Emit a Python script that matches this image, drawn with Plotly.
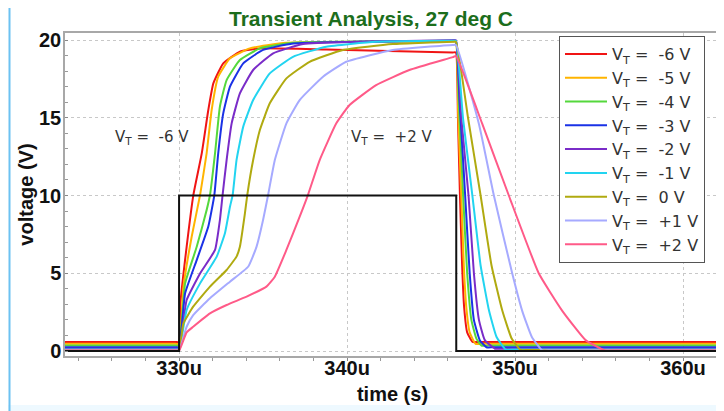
import plotly.graph_objects as go

# ---------------- data ----------------
labels = ["V<sub>T</sub> =  -6 V", "V<sub>T</sub> =  -5 V", "V<sub>T</sub> =  -4 V",
          "V<sub>T</sub> =  -3 V", "V<sub>T</sub> =  -2 V", "V<sub>T</sub> =  -1 V",
          "V<sub>T</sub> =  0 V", "V<sub>T</sub> =  +1 V", "V<sub>T</sub> =  +2 V"]
colors = ["#f01414", "#ffb400", "#55d83c", "#1a32e6", "#7a2cc8", "#22d4f0",
          "#b0aa10", "#a6aaff", "#ff5a88"]

t_m6 = [323.2, 329.8, 330.0, 330.08, 330.45, 330.85, 331.35, 331.74, 332.04, 332.63, 333.62, 334.81, 338.76, 346.3, 346.48,
        346.6, 346.72, 346.85, 346.97, 347.15, 347.47, 347.8, 362.3]
v_m6 = [0.58, 0.58, 0.58, 3.07, 6.7, 10.03, 12.71, 15.5, 17.21, 18.5, 19.25, 19.46, 19.39, 19.2, 19.2,
        15.0, 10.0, 5.5, 2.8, 1.2, 0.58, 0.58, 0.58]

t_m5 = [323.2, 329.8, 330.0, 330.26, 330.75, 331.25, 331.64, 331.94, 332.33, 333.03, 334.21, 336.39, 346.3, 346.48,
        346.62, 346.8, 346.95, 347.1, 347.3, 347.65, 348.0, 362.3]
v_m5 = [0.46, 0.46, 0.46, 4.14, 7.35, 10.03, 12.71, 15.5, 17.64, 18.82, 19.46, 19.82, 19.9, 19.9,
        15.0, 10.0, 5.5, 2.8, 1.2, 0.46, 0.46, 0.46]

t_m4 = [323.2, 329.8, 330.0, 330.36, 331.05, 331.64, 331.84, 332.14, 332.43, 332.83, 333.62, 334.81, 336.8, 346.3, 346.48,
        346.65, 346.91, 347.15, 347.4, 347.7, 348.0, 348.4, 362.3]
v_m4 = [0.35, 0.35, 0.35, 4.35, 6.7, 9.06, 10.03, 12.71, 15.71, 17.42, 18.71, 19.46, 19.82, 19.95, 19.95,
        16.0, 10.0, 5.0, 2.0, 0.8, 0.35, 0.35, 0.35]

t_m3 = [323.2, 329.8, 330.0, 330.36, 331.05, 331.74, 332.1, 332.33, 332.63, 333.03, 333.82, 335.0, 336.78, 346.3, 346.48,
        346.7, 347.03, 347.3, 347.55, 347.9, 348.3, 348.7, 362.3]
v_m3 = [0.24, 0.24, 0.24, 3.71, 5.85, 8.0, 10.03, 12.71, 15.28, 17.0, 18.5, 19.36, 19.78, 19.96, 19.96,
        16.0, 10.0, 5.0, 2.0, 0.7, 0.24, 0.24, 0.24]

t_m2 = [323.2, 329.8, 330.0, 330.45, 331.25, 332.14, 332.43, 332.59, 332.83, 333.13, 333.62, 334.41, 335.6, 337.38,
        346.3, 346.48, 346.8, 347.23, 347.55, 347.85, 348.2, 348.8, 349.2, 362.3]
v_m2 = [0.15, 0.15, 0.15, 3.28, 4.99, 6.5, 8.42, 10.03, 12.28, 14.64, 16.57, 18.07, 19.14, 19.74,
        19.98, 19.98, 15.0, 10.0, 5.0, 2.0, 0.7, 0.15, 0.15, 0.15]

t_m1 = [323.2, 329.8, 330.0, 330.45, 331.25, 332.24, 332.73, 333.03, 333.19, 333.42, 333.82, 334.41, 335.4, 336.78,
        338.76, 341.73, 346.3, 346.48, 346.9, 347.46, 347.95, 348.45, 348.9, 349.44, 349.9, 362.3]
v_m1 = [0.1, 0.1, 0.1, 2.64, 4.35, 6.07, 7.57, 9.28, 10.03, 12.28, 14.43, 16.14, 17.85, 18.92,
        19.57, 19.89, 19.95, 19.95, 15.0, 10.0, 5.5, 2.6, 0.9, 0.1, 0.1, 0.1]

t_z0 = [323.2, 329.8, 330.0, 330.26, 330.84, 331.84, 332.83, 333.42, 333.62, 333.92, 334.06, 334.41, 334.81, 335.4,
        336.39, 337.77, 339.75, 342.72, 346.3, 346.48, 347.2, 347.95, 348.6, 349.24, 349.8, 350.33, 350.8, 362.3]
v_z0 = [0.07, 0.07, 0.07, 1.78, 2.85, 4.14, 5.21, 6.07, 6.7, 8.85, 10.03, 12.28, 14.21, 15.93,
        17.53, 18.6, 19.36, 19.74, 19.89, 19.89, 15.0, 10.0, 5.5, 2.6, 0.8, 0.07, 0.07, 0.07]

t_p1 = [323.2, 329.8, 330.0, 330.45, 330.84, 331.84, 333.03, 334.11, 334.61, 335.0, 335.3, 335.7, 336.39, 337.18,
        338.57, 339.95, 342.72, 346.3, 346.48, 347.85, 348.74, 349.83, 350.42, 351.0, 351.61, 352.1, 362.3]
v_p1 = [0.05, 0.05, 0.05, 1.56, 2.31, 3.39, 4.46, 5.42, 6.7, 8.42, 10.03, 12.28, 14.64, 16.14,
        17.64, 18.6, 19.36, 19.68, 19.68, 14.6, 10.0, 5.0, 2.6, 0.9, 0.05, 0.05, 0.05]

t_p2 = [323.2, 329.8, 330.0, 330.45, 330.84, 331.84, 332.83, 334.02, 335.2, 335.7, 336.39, 337.18, 337.67, 338.37,
        339.36, 340.15, 341.73, 343.71, 346.3, 346.48, 348.05, 349.63, 351.41, 352.8, 354.2, 355.36, 355.9, 362.3]
v_p2 = [0.03, 0.03, 0.03, 1.2, 1.56, 2.42, 2.96, 3.5, 4.14, 4.78, 6.5, 8.64, 10.03, 12.28,
        14.64, 15.82, 17.1, 18.07, 18.9, 18.97, 14.6, 10.0, 5.0, 2.6, 0.7, 0.03, 0.03, 0.03]

t_pulse = [323.2, 330.0, 330.0, 346.5, 346.5, 362.3]
v_pulse = [0.0, 0.0, 10.0, 10.0, 0.0, 0.0]

x_tickvals = [330, 340, 350, 360]
x_ticktext = ["330u", "340u", "350u", "360u"]
y_tickvals = [0, 5, 10, 15, 20]

series_t = [t_m6, t_m5, t_m4, t_m3, t_m2, t_m1, t_z0, t_p1, t_p2]
series_v = [v_m6, v_m5, v_m4, v_m3, v_m2, v_m1, v_z0, v_p1, v_p2]

# ---------------- figure ----------------
fig = go.Figure()
for name, col, tt, vv in zip(labels, colors, series_t, series_v):
    fig.add_trace(go.Scatter(x=tt, y=vv, mode="lines", name=name,
                             line=dict(color=col, width=2, shape="spline", smoothing=0.4)))

fig.add_trace(go.Scatter(x=t_pulse, y=v_pulse, mode="lines", showlegend=False,
                         line=dict(color="#111111", width=2)))

# the page body adds an 8 px offset; lay out in window pixels and convert
OFF = 8
W, H = 724 - OFF, 411 - OFF
PL, PR, PT, PB = 65, 720, 33, 356          # plot area in window pixels
L, R, T, B = PL - OFF, W - (PR - OFF), PT - OFF, H - (PB - OFF)
pw, ph = W - L - R, H - T - B


def px(xw):
    return (xw - OFF - L) / pw


def py(yw):
    return (H - B - (yw - OFF)) / ph


label_font = dict(family="DejaVu Sans, Verdana, sans-serif", size=15, color="#333333")
fig.add_annotation(x=328.4, y=13.7, text="V<sub>T</sub> =  -6 V", showarrow=False, font=label_font)
fig.add_annotation(x=342.64, y=13.76, text="V<sub>T</sub> =  +2 V", showarrow=False, font=label_font)

# outer light-blue frame
fig.add_shape(type="rect", xref="paper", yref="paper", x0=px(OFF), x1=px(724), y0=py(411), y1=py(405),
              line=dict(width=0), fillcolor="#eef9ff", layer="below")
fig.add_shape(type="line", xref="paper", yref="paper", x0=px(9.5), x1=px(9.5), y0=py(OFF), y1=py(411),
              line=dict(color="#6cc2f2", width=2))

tick_font = dict(family="Liberation Sans, Arial, sans-serif", size=20, color="#111111", weight="bold")
axis_title_font = dict(family="Liberation Sans, Arial, sans-serif", size=20, color="#111111", weight="bold")

fig.update_layout(
    width=W, height=H,
    margin=dict(l=L, r=R, t=T, b=B, autoexpand=False),
    paper_bgcolor="white", plot_bgcolor="white",
    title=dict(text="Transient Analysis, 27 deg C", x=(371 - OFF) / W, xref="container", xanchor="center",
               y=1 - (19 - OFF) / H, yref="container", yanchor="middle", automargin=False,
               font=dict(family="Liberation Sans Narrow, Arial Narrow, Liberation Sans, sans-serif",
                         size=21, color="#1c6e1c", weight="bold")),
    legend=dict(x=px(559), y=py(36), xanchor="left", yanchor="top",
                bgcolor="white", bordercolor="#555555", borderwidth=1,
                itemwidth=42,
                font=dict(family="DejaVu Sans, Verdana, sans-serif", size=16, color="#333333"),
                tracegroupgap=0),
    showlegend=True,
)

fig.update_xaxes(range=[323.21, 362.2], tickmode="array", tickvals=x_tickvals, ticktext=x_ticktext,
                 tickfont=tick_font, ticks="outside", ticklen=3, tickcolor="#888888",
                 ticklabelstandoff=-10, automargin=False,
                 showgrid=True, gridcolor="#c8c8c8", griddash="dot", gridwidth=1,
                 showline=True, mirror=True, linecolor="#a8a8a8", linewidth=1.5, zeroline=False,
                 minor=dict(tickmode="linear", tick0=330, dtick=2, ticks="outside", ticklen=3,
                            tickcolor="#999999", showgrid=False),
                 title=dict(text="time (s)", standoff=9, font=axis_title_font))

fig.update_yaxes(range=[-0.32, 20.45], tickmode="array", tickvals=y_tickvals,
                 tickfont=tick_font, ticks="inside", ticklen=3, tickcolor="#888888",
                 ticklabelstandoff=-2, automargin=False,
                 showgrid=True, gridcolor="#c8c8c8", griddash="dot", gridwidth=1,
                 showline=True, mirror=True, linecolor="#a8a8a8", linewidth=1.5, zeroline=False,
                 minor=dict(tickmode="linear", tick0=0, dtick=1, ticks="inside", ticklen=3,
                            tickcolor="#999999", showgrid=False),
                 title=dict(text="voltage (V)", standoff=0, font=axis_title_font))

fig.write_html("out.html")
